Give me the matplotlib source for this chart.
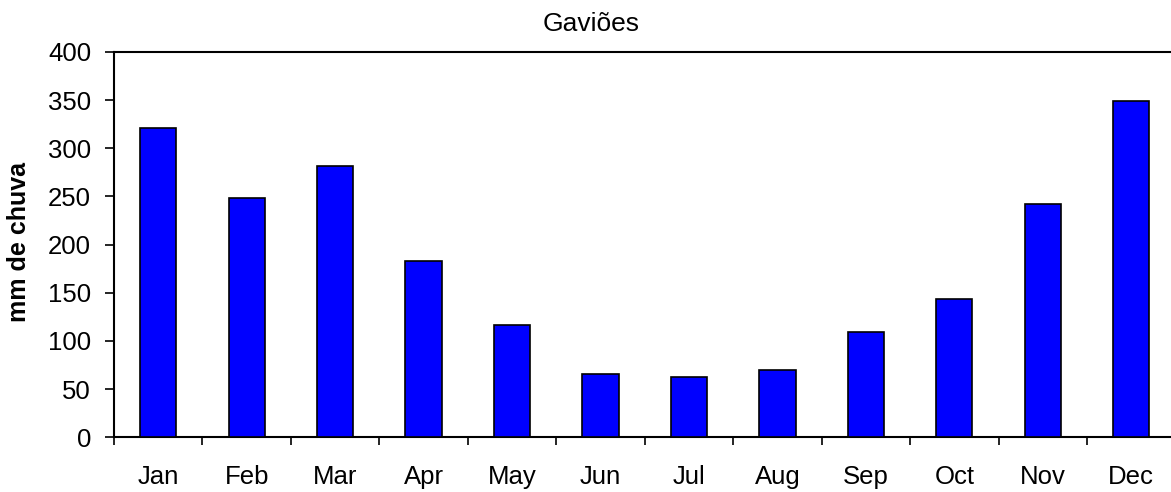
import matplotlib
matplotlib.use("Agg")
import matplotlib.pyplot as plt
import numpy as np

months = ["Jan", "Feb", "Mar", "Apr", "May", "Jun", "Jul", "Aug", "Sep", "Oct", "Nov", "Dec"]
rain_mm = [321.5, 248.8, 281.4, 182.7, 116.3, 66, 63, 69.6, 109.7, 143.6, 242.6, 349]
y_ticks = [0, 50, 100, 150, 200, 250, 300, 350, 400]
title = "Gaviões"
y_label = "mm de chuva"

plt.rcParams['font.family'] = ['Liberation Sans', 'DejaVu Sans']

fig = plt.figure(figsize=(11.71, 4.92), dpi=100)
ax = fig.add_axes([114/1171, (492-437.3)/492, 1061.4/1171, 385.3/492])

x = np.arange(len(months))
ax.bar(x, rain_mm, width=0.41, color="#0000FF", edgecolor="black", linewidth=1.2, zorder=3)

ax.set_xlim(-0.5, len(months) - 0.5)
ax.set_ylim(0, 400)
ax.set_yticks(y_ticks)
ax.set_yticklabels([str(v) for v in y_ticks], fontsize=18.5)

ax.set_xticks(np.arange(len(months) + 1) - 0.5)
ax.set_xticklabels([])
ax.set_xticks(x, minor=True)
ax.set_xticklabels(months, minor=True, fontsize=18.5)
ax.tick_params(axis='x', which='major', direction='out', length=6, width=1.2)
ax.tick_params(axis='x', which='minor', length=0, pad=20)
ax.tick_params(axis='y', direction='out', length=6.5, width=1.2, pad=10)

for side in ['left', 'bottom', 'top', 'right']:
    ax.spines[side].set_linewidth(1.5)
    ax.spines[side].set_color('black')

ax.set_ylabel(y_label, fontsize=18, fontweight='bold')
ax.yaxis.label.set_va('center')
ax.yaxis.set_label_coords((19 - 114) / 1061.4, (492 - 242 - (492 - 437.3)) / 385.3)

fig.text(591/1171, 1 - 24/492, title, ha='center', va='center', fontsize=19)

fig.savefig("out.png", dpi=100)
